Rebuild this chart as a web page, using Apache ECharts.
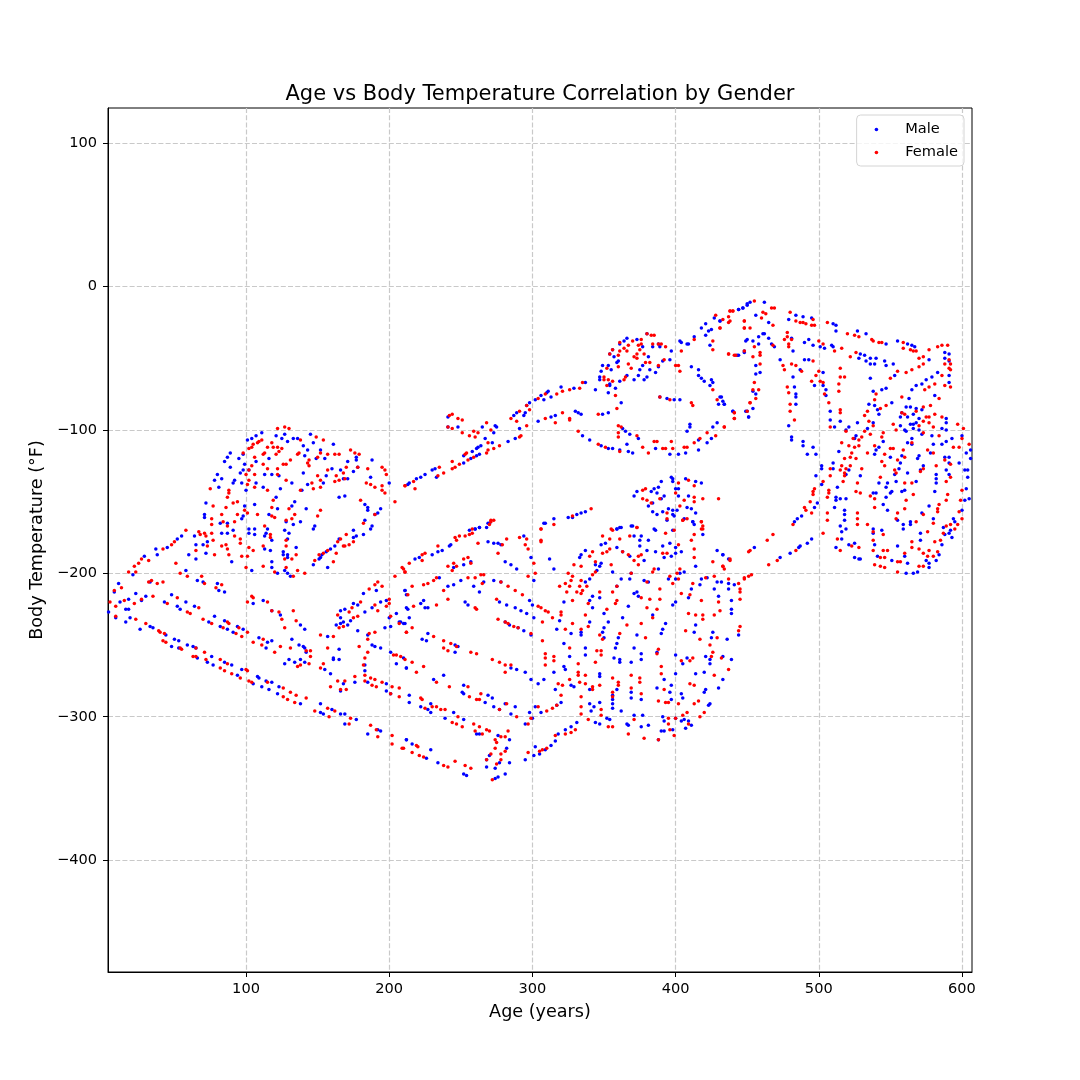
<!DOCTYPE html>
<html>
<head>
<meta charset="utf-8">
<style>html,body{margin:0;padding:0;background:#fff}#c{width:1080px;height:1080px}</style>
<script src="https://cdn.jsdelivr.net/npm/echarts@6/dist/echarts.min.js"></script>
</head>
<body>
<div id="c"></div>
<script>
const chartTitle = 'Age vs Body Temperature Correlation by Gender';
const xName = 'Age (years)';
const yName = 'Body Temperature (°F)';
const xTicks = [100,200,300,400,500,600];
const yTicks = [-400,-300,-200,-100,0,100];

const maleDome = [[111,-102],[107,-104],[104,-106],[101,-107],[121,-104],[127,-103],[125,-106],[129,-108],[133,-106],[136,-106],[145,-103],[147,-109],[161,-110],[140,-111],[143,-114],[152,-114],[89,-116],[87,-119],[85,-122],[95,-120],[98,-117],[116,-120],[141,-118],[149,-120],[155,-120],[171,-122],[177,-119],[177,-121],[188,-121],[99,-124],[107,-122],[89,-126],[80,-131],[78,-135],[83,-134],[81,-140],[98,-128],[96,-130],[102,-128],[92,-135],[91,-137],[97,-137],[107,-137],[100,-142],[112,-140],[113,-131],[118,-131],[123,-132],[132,-137],[124,-141],[140,-130],[139,-142],[143,-138],[154,-137],[156,-132],[160,-127],[166,-128],[171,-134],[175,-129],[178,-126],[168,-134],[187,-133],[200,-137],[165,-147],[169,-146],[183,-152],[185,-154],[185,-156],[194,-155],[192,-158],[190,-159],[183,-163],[188,-167],[187,-169],[182,-173],[177,-174],[175,-175],[175,-170],[165,-176],[162,-181],[159,-183],[156,-185],[153,-187],[152,-189],[157,-196],[147,-194],[151,-190],[134,-150],[132,-153],[142,-155],[138,-164],[148,-167],[147,-169],[133,-166],[128,-164],[127,-170],[130,-172],[129,-176],[126,-185],[126,-187],[129,-187],[129,-189],[135,-182],[127,-198],[129,-200],[131,-202],[121,-147],[122,-155],[116,-159],[113,-174],[114,-172],[115,-169],[118,-177],[113,-183],[117,-184],[118,-192],[118,-196],[122,-200],[106,-152],[99,-153],[98,-160],[97,-162],[102,-169],[106,-169],[106,-173],[102,-172],[91,-170],[87,-165],[83,-172],[87,-172],[82,-165],[72,-151],[71,-159],[71,-161],[65,-180],[70,-180],[73,-178],[64,-174],[72,-186],[65,-190],[60,-187],[90,-192],[104,-198],[58,-198],[55,-174],[52,-176],[45,-182],[37,-183],[38,-187],[29,-188],[21,-201]];

const femaleDome = [[122,-99],[127,-98],[130,-99],[111,-107],[109,-108],[108,-109],[105,-110],[104,-112],[102,-113],[118,-109],[115,-112],[119,-112],[122,-112],[125,-113],[113,-116],[112,-117],[123,-115],[121,-117],[98,-116],[106,-119],[138,-107],[149,-105],[154,-107],[137,-116],[136,-117],[144,-121],[143,-123],[144,-125],[150,-119],[157,-117],[162,-117],[165,-117],[173,-114],[176,-116],[179,-117],[152,-116],[112,-124],[104,-125],[102,-128],[100,-131],[115,-127],[122,-127],[126,-124],[131,-121],[128,-124],[122,-131],[128,-135],[106,-131],[157,-128],[150,-132],[152,-135],[163,-132],[165,-135],[162,-136],[169,-134],[170,-126],[168,-130],[178,-126],[185,-127],[184,-137],[187,-138],[190,-140],[195,-126],[197,-128],[198,-131],[195,-139],[195,-142],[197,-144],[204,-150],[211,-139],[88,-142],[88,-144],[87,-147],[102,-135],[101,-138],[75,-141],[106,-140],[115,-142],[119,-149],[118,-154],[138,-142],[147,-141],[152,-140],[146,-137],[152,-156],[130,-155],[134,-159],[128,-163],[132,-162],[118,-160],[120,-161],[150,-160],[180,-149],[190,-159],[182,-165],[99,-156],[77,-153],[86,-154],[91,-151],[94,-159],[94,-150],[101,-158],[108,-159],[76,-162],[83,-159],[84,-164],[87,-167],[76,-166],[92,-164],[76,-172],[58,-170],[67,-171],[71,-172],[72,-174],[68,-173],[77,-177],[92,-174],[96,-176],[96,-179],[83,-181],[86,-180],[87,-183],[78,-187],[88,-187],[97,-188],[102,-182],[105,-184],[101,-188],[100,-196],[112,-195],[120,-199],[65,-184],[73,-181],[113,-167],[117,-173],[117,-175],[112,-181],[128,-177],[128,-181],[127,-190],[128,-196],[132,-190],[135,-187],[136,-198],[133,-202],[141,-200],[148,-191],[151,-187],[154,-186],[157,-184],[161,-192],[163,-186],[164,-178],[166,-176],[168,-181],[170,-173],[169,-181],[172,-180],[175,-178],[51,-193],[50,-178],[48,-180],[42,-183],[32,-191],[27,-190],[25,-193],[22,-195],[18,-199],[23,-199],[54,-200],[69,-202],[59,-202]];

const maleLowerLeft = [[11,-207],[8,-213],[33,-206],[66,-205],[70,-206],[80,-207],[81,-212],[85,-213],[23,-214],[30,-216],[27,-219],[18,-218],[12,-220],[16,-225],[18,-225],[4,-227],[9,-231],[16,-234],[19,-231],[26,-239],[33,-237],[35,-238],[48,-215],[43,-220],[52,-223],[54,-225],[58,-220],[64,-223],[78,-230],[85,-233],[74,-234],[82,-237],[87,-239],[91,-241],[94,-237],[98,-239],[44,-243],[50,-246],[53,-247],[48,-251],[53,-252],[59,-250],[63,-251],[65,-252],[76,-258],[66,-259],[73,-262],[77,-264],[85,-262],[90,-264],[97,-267],[94,-271],[109,-245],[114,-252],[115,-248],[118,-247],[112,-219],[105,-221],[118,-226],[124,-229],[138,-236],[141,-239],[132,-246],[137,-250],[140,-251],[141,-252],[142,-255],[138,-260],[141,-262],[127,-263],[130,-260],[134,-262],[157,-244],[165,-253],[161,-259],[161,-260],[165,-260],[155,-267],[159,-270],[168,-277],[166,-282],[108,-272],[109,-273],[105,-277],[114,-275],[118,-276],[111,-279],[116,-281],[123,-279],[122,-284],[138,-291],[152,-291],[152,-297],[154,-298],[160,-295],[166,-298],[169,-298],[177,-302],[169,-305],[185,-312],[192,-309],[194,-310],[168,-234],[166,-231],[166,-235],[163,-236],[171,-236],[166,-226],[169,-225],[173,-233],[178,-222],[178,-240],[175,-221],[183,-227],[182,-214],[191,-212],[188,-224],[194,-220],[198,-219],[185,-243],[188,-250],[194,-252],[190,-251],[183,-264],[183,-268],[176,-276],[185,-276],[198,-277],[198,-282],[201,-284],[197,-238],[201,-237],[200,-231],[205,-228],[201,-255],[205,-263],[212,-266],[211,-212],[212,-224],[208,-234],[210,-235],[212,-316]];

const femaleLowerLeft = [[8,-212],[13,-210],[32,-206],[34,-205],[38,-207],[42,-206],[71,-207],[79,-210],[83,-208],[5,-220],[9,-223],[15,-219],[22,-221],[27,-218],[35,-216],[52,-217],[45,-221],[59,-227],[61,-228],[67,-224],[70,-232],[76,-235],[84,-238],[87,-234],[88,-235],[93,-242],[95,-238],[97,-244],[101,-241],[9,-230],[23,-232],[30,-235],[39,-240],[40,-241],[43,-242],[42,-247],[44,-248],[54,-252],[55,-253],[65,-252],[71,-255],[63,-258],[65,-258],[72,-260],[82,-260],[87,-263],[82,-266],[85,-268],[90,-270],[96,-273],[100,-267],[101,-268],[101,-220],[104,-216],[105,-217],[115,-220],[118,-226],[123,-227],[125,-232],[133,-226],[135,-233],[127,-238],[105,-248],[112,-246],[111,-250],[120,-255],[124,-251],[131,-252],[142,-254],[145,-254],[145,-258],[144,-263],[136,-265],[138,-264],[152,-243],[161,-244],[157,-252],[154,-263],[152,-266],[164,-275],[159,-279],[169,-275],[166,-281],[170,-281],[102,-275],[104,-276],[115,-276],[126,-280],[131,-283],[135,-285],[142,-287],[126,-286],[129,-288],[134,-290],[148,-296],[157,-294],[158,-300],[162,-296],[173,-301],[172,-305],[187,-306],[191,-309],[192,-314],[202,-313],[202,-319],[209,-322],[164,-229],[165,-238],[168,-237],[172,-227],[174,-224],[178,-230],[175,-231],[180,-220],[186,-211],[192,-206],[190,-208],[195,-209],[190,-222],[192,-226],[198,-223],[200,-218],[200,-221],[201,-230],[186,-242],[190,-241],[185,-246],[179,-251],[185,-255],[183,-259],[182,-264],[183,-271],[183,-275],[176,-272],[187,-273],[190,-274],[188,-278],[191,-279],[195,-276],[202,-279],[207,-280],[201,-284],[207,-286],[203,-257],[205,-257],[208,-258],[211,-260],[207,-235],[212,-241],[209,-196],[211,-199],[204,-202]];

const maleLowerMid = [[270,-165],[263,-168],[260,-169],[256,-170],[243,-180],[242,-181],[237,-184],[234,-185],[230,-187],[221,-189],[218,-190],[269,-178],[273,-179],[276,-179],[278,-180],[294,-174],[299,-189],[281,-192],[285,-194],[289,-197],[301,-205],[308,-165],[312,-190],[315,-197],[257,-192],[252,-194],[245,-196],[235,-203],[241,-209],[245,-208],[250,-205],[259,-209],[266,-206],[273,-205],[278,-206],[263,-213],[211,-212],[212,-215],[224,-219],[222,-221],[225,-224],[227,-224],[213,-225],[214,-231],[207,-234],[211,-235],[253,-220],[255,-222],[277,-220],[282,-222],[288,-224],[292,-226],[298,-219],[300,-222],[296,-228],[301,-231],[281,-234],[284,-236],[290,-238],[294,-240],[299,-243],[319,-233],[317,-239],[327,-242],[322,-249],[326,-258],[322,-265],[323,-267],[315,-269],[327,-278],[329,-279],[227,-242],[223,-246],[226,-247],[246,-250],[248,-251],[246,-255],[210,-259],[212,-266],[238,-271],[231,-274],[252,-278],[251,-283],[252,-284],[289,-267],[285,-266],[295,-269],[299,-274],[304,-277],[308,-274],[316,-281],[320,-290],[317,-292],[214,-285],[214,-290],[222,-293],[229,-291],[227,-295],[229,-297],[239,-301],[245,-297],[252,-302],[267,-290],[269,-285],[272,-287],[273,-293],[277,-295],[281,-291],[285,-298],[288,-293],[298,-297],[302,-293],[306,-297],[295,-305],[300,-301],[331,-304],[261,-312],[263,-312],[284,-316],[276,-313],[282,-322],[270,-327],[268,-330],[268,-335],[284,-332],[274,-336],[277,-332],[281,-340],[274,-343],[276,-342],[212,-316],[216,-319],[229,-323],[226,-329],[234,-332],[252,-340],[254,-341],[295,-330],[301,-327],[302,-321],[305,-326],[309,-323],[313,-320],[316,-317],[318,-312],[323,-309],[327,-307],[362,-168],[359,-169],[369,-167],[386,-170],[394,-163],[412,-164],[419,-173],[337,-184],[334,-187],[333,-189],[348,-180],[351,-179],[359,-182],[363,-185],[368,-188],[371,-174],[376,-174],[375,-177],[381,-177],[375,-181],[380,-184],[386,-185],[378,-191],[391,-181],[396,-179],[400,-182],[404,-185],[397,-188],[392,-189],[400,-186],[429,-184],[433,-187],[437,-190],[414,-195],[348,-193],[347,-195],[345,-198],[356,-199],[344,-194],[340,-204],[337,-206],[369,-200],[368,-204],[362,-204],[359,-209],[378,-205],[381,-206],[388,-197],[395,-204],[406,-199],[403,-200],[400,-204],[418,-204],[422,-203],[429,-206],[432,-206],[437,-207],[437,-211],[441,-208],[427,-211],[417,-208],[409,-217],[411,-211],[430,-216],[439,-219],[439,-225],[439,-228],[347,-217],[342,-216],[340,-219],[322,-220],[373,-213],[371,-214],[374,-216],[367,-223],[342,-224],[350,-228],[353,-234],[350,-238],[349,-241],[350,-245],[340,-234],[334,-241],[334,-243],[363,-231],[384,-229],[373,-243],[360,-245],[359,-249],[358,-252],[357,-259],[361,-260],[361,-262],[369,-262],[371,-252],[376,-256],[376,-260],[398,-222],[400,-220],[393,-235],[391,-239],[390,-242],[387,-255],[400,-257],[408,-259],[405,-263],[414,-236],[413,-241],[426,-241],[425,-245],[436,-246],[444,-243],[439,-260],[433,-258],[424,-260],[421,-258],[424,-263],[420,-269],[414,-270],[337,-252],[337,-257],[347,-270],[347,-272],[340,-281],[356,-285],[356,-288],[356,-291],[356,-294],[359,-281],[347,-290],[340,-291],[341,-296],[343,-293],[344,-304],[347,-305],[352,-301],[354,-302],[362,-296],[369,-283],[369,-287],[376,-288],[371,-299],[366,-305],[367,-306],[376,-307],[381,-306],[377,-299],[397,-278],[392,-274],[400,-270],[387,-280],[396,-283],[404,-284],[405,-287],[397,-288],[420,-283],[421,-281],[430,-280],[433,-274],[423,-292],[424,-291],[391,-300],[392,-303],[400,-301],[404,-303],[406,-302],[409,-303],[411,-306],[407,-308],[398,-309],[390,-310],[392,-310],[388,-316]];

const femaleLowerMid = [[271,-164],[270,-166],[258,-172],[256,-173],[253,-174],[249,-174],[246,-175],[247,-177],[234,-181],[225,-186],[223,-187],[223,-191],[214,-193],[210,-197],[211,-199],[262,-179],[279,-180],[282,-176],[276,-186],[291,-175],[296,-176],[295,-180],[297,-183],[301,-193],[302,-200],[297,-202],[306,-169],[306,-177],[315,-166],[306,-178],[257,-193],[255,-189],[252,-190],[245,-193],[241,-195],[247,-195],[244,-198],[231,-205],[233,-203],[224,-208],[227,-207],[216,-209],[255,-203],[260,-203],[264,-201],[266,-201],[265,-207],[213,-215],[238,-212],[233,-222],[241,-218],[217,-223],[260,-224],[261,-225],[275,-218],[278,-206],[283,-209],[288,-212],[293,-215],[304,-223],[306,-224],[309,-226],[311,-227],[314,-231],[276,-232],[281,-234],[283,-235],[287,-237],[290,-238],[299,-242],[307,-234],[320,-227],[320,-229],[323,-239],[328,-235],[212,-241],[216,-238],[231,-244],[238,-247],[238,-252],[241,-254],[243,-249],[247,-251],[257,-255],[261,-256],[272,-260],[277,-262],[281,-264],[285,-264],[281,-269],[307,-247],[309,-256],[309,-259],[309,-264],[315,-258],[315,-261],[216,-262],[224,-265],[219,-269],[233,-276],[242,-279],[255,-279],[256,-286],[264,-284],[261,-288],[263,-288],[222,-287],[223,-288],[225,-294],[230,-293],[233,-293],[236,-295],[239,-295],[248,-300],[244,-304],[247,-305],[251,-307],[277,-295],[282,-291],[289,-300],[299,-301],[297,-305],[304,-293],[310,-296],[314,-294],[317,-292],[320,-285],[318,-277],[321,-278],[259,-305],[263,-307],[268,-309],[270,-310],[260,-310],[265,-312],[283,-310],[278,-314],[281,-314],[274,-316],[275,-318],[274,-322],[271,-326],[268,-330],[278,-326],[281,-324],[278,-330],[275,-333],[272,-344],[210,-322],[219,-320],[220,-321],[216,-325],[221,-327],[224,-328],[238,-334],[241,-335],[246,-331],[253,-334],[257,-336],[297,-325],[305,-324],[307,-323],[310,-322],[316,-313],[323,-312],[327,-311],[330,-309],[349,-174],[354,-176],[356,-170],[361,-176],[368,-174],[373,-168],[393,-172],[399,-170],[405,-163],[418,-164],[418,-169],[413,-173],[411,-177],[413,-183],[413,-189],[342,-185],[340,-188],[354,-183],[352,-185],[349,-186],[334,-195],[329,-194],[344,-192],[344,-199],[342,-201],[325,-200],[328,-202],[327,-205],[323,-207],[319,-209],[326,-209],[324,-213],[331,-213],[334,-205],[333,-209],[335,-212],[334,-214],[338,-209],[328,-219],[339,-221],[355,-194],[369,-200],[359,-209],[356,-213],[359,-219],[358,-221],[347,-213],[363,-185],[367,-187],[374,-188],[376,-187],[371,-191],[374,-194],[384,-199],[385,-197],[391,-186],[394,-186],[402,-180],[403,-197],[401,-200],[396,-202],[398,-207],[389,-211],[402,-204],[412,-207],[410,-215],[404,-214],[380,-206],[382,-218],[376,-217],[389,-218],[380,-224],[387,-225],[384,-231],[352,-225],[337,-229],[339,-237],[334,-239],[366,-236],[376,-235],[418,-219],[409,-228],[414,-229],[419,-229],[419,-232],[427,-229],[430,-220],[431,-226],[445,-211],[445,-213],[445,-218],[426,-192],[433,-195],[438,-191],[421,-203],[427,-202],[444,-207],[448,-203],[445,-237],[444,-240],[451,-185],[361,-242],[347,-243],[349,-246],[379,-245],[407,-240],[417,-246],[429,-245],[424,-250],[426,-255],[425,-258],[432,-259],[437,-267],[427,-271],[348,-254],[348,-257],[345,-254],[344,-262],[388,-253],[387,-256],[390,-265],[390,-270],[369,-271],[375,-273],[375,-276],[356,-273],[360,-276],[360,-278],[332,-263],[332,-269],[332,-271],[326,-252],[326,-274],[337,-271],[337,-277],[342,-279],[342,-281],[347,-278],[333,-276],[334,-286],[334,-293],[334,-298],[339,-302],[348,-295],[348,-299],[353,-307],[356,-307],[356,-283],[356,-286],[369,-280],[376,-284],[367,-312],[371,-302],[378,-315],[388,-316],[388,-289],[393,-290],[395,-290],[392,-281],[402,-291],[410,-277],[413,-278],[413,-291],[416,-289],[405,-299],[408,-297],[395,-301],[395,-305],[400,-301],[396,-309],[399,-313],[409,-305],[420,-297],[417,-300],[404,-261],[410,-261],[412,-259]];

const maleUpperMid = [[337,-67],[344,-72],[320,-70],[329,-71],[311,-73],[310,-74],[306,-76],[302,-79],[308,-79],[313,-77],[298,-81],[296,-83],[289,-88],[287,-90],[294,-90],[295,-88],[304,-94],[313,-91],[316,-90],[330,-87],[332,-88],[334,-89],[349,-89],[353,-88],[362,-81],[358,-71],[353,-74],[241,-91],[248,-98],[241,-98],[265,-98],[274,-97],[275,-98],[273,-102],[291,-99],[267,-106],[272,-109],[283,-108],[288,-106],[264,-111],[262,-112],[261,-113],[258,-115],[252,-118],[263,-117],[261,-118],[257,-120],[252,-123],[233,-133],[232,-127],[230,-128],[225,-131],[222,-133],[219,-134],[214,-137],[213,-138],[335,-104],[340,-107],[348,-111],[353,-113],[356,-113],[361,-114],[367,-115],[370,-116],[366,-110],[363,-99],[365,-101],[368,-103],[374,-106],[386,-113],[396,-117],[402,-117],[407,-116],[416,-114],[416,-107],[422,-109],[425,-106],[426,-98],[429,-95],[408,-101],[410,-96],[410,-98],[389,-77],[394,-78],[399,-79],[403,-79],[411,-56],[416,-58],[416,-62],[418,-64],[420,-66],[425,-65],[426,-67],[424,-69],[431,-77],[433,-80],[430,-82],[434,-82],[440,-87],[451,-91],[449,-87],[380,-33],[373,-37],[366,-36],[364,-38],[361,-40],[356,-44],[354,-47],[357,-49],[360,-52],[359,-53],[353,-55],[349,-55],[348,-59],[355,-58],[347,-63],[347,-65],[354,-68],[354,-69],[361,-66],[366,-62],[371,-65],[374,-62],[378,-65],[380,-63],[375,-58],[377,-55],[381,-49],[377,-42],[384,-42],[388,-40],[389,-42],[397,-45],[396,-51],[391,-52],[388,-56],[386,-60],[382,-58],[403,-38],[404,-39],[408,-40],[409,-40],[413,-35],[421,-34],[418,-29],[421,-26],[423,-31],[425,-30],[431,-24],[427,-22],[444,-16],[447,-15],[450,-12],[449,-38],[444,-48],[448,-45],[424,-41],[397,-133],[398,-134],[390,-136],[398,-136],[407,-134],[414,-136],[418,-137],[373,-143],[388,-140],[385,-141],[383,-143],[387,-144],[400,-141],[402,-141],[409,-146],[402,-146],[371,-146],[392,-146],[390,-148],[384,-151],[381,-153],[408,-154],[411,-155],[395,-155],[398,-156],[401,-156],[391,-157],[384,-157],[414,-158],[398,-159],[399,-160],[387,-159],[406,-162],[412,-164],[413,-166],[370,-167],[361,-168],[359,-169],[385,-169],[398,-170],[315,-162],[309,-165],[325,-161],[328,-161],[331,-159],[334,-158],[337,-157],[269,-165],[268,-168],[263,-168],[260,-169]];

const femaleUpperMid = [[244,-89],[242,-90],[248,-92],[251,-93],[244,-99],[241,-98],[251,-102],[256,-104],[260,-105],[259,-101],[262,-102],[268,-95],[271,-100],[269,-109],[277,-111],[273,-113],[269,-114],[268,-116],[254,-116],[253,-117],[244,-122],[249,-124],[246,-126],[244,-127],[255,-121],[259,-119],[235,-126],[238,-130],[234,-132],[217,-136],[211,-139],[218,-141],[291,-105],[292,-104],[296,-97],[289,-94],[285,-92],[291,-87],[298,-86],[296,-83],[304,-78],[309,-75],[317,-75],[321,-73],[326,-72],[333,-71],[335,-67],[309,-92],[316,-95],[321,-88],[326,-92],[326,-93],[346,-89],[359,-85],[358,-76],[332,-101],[346,-110],[351,-112],[360,-97],[362,-98],[360,-102],[360,-105],[361,-115],[373,-104],[377,-112],[381,-116],[385,-108],[387,-108],[391,-113],[393,-113],[397,-108],[398,-113],[406,-112],[408,-112],[413,-109],[417,-106],[422,-102],[428,-104],[434,-98],[400,-55],[402,-55],[403,-59],[404,-45],[413,-37],[426,-38],[426,-44],[437,-47],[442,-48],[448,-45],[431,-29],[428,-20],[433,-23],[437,-21],[437,-25],[438,-24],[438,-17],[440,-17],[448,-24],[448,-29],[411,-81],[412,-83],[429,-79],[426,-72],[441,-88],[441,-92],[389,-77],[396,-79],[452,-81],[380,-33],[383,-34],[385,-34],[376,-37],[370,-38],[367,-41],[361,-39],[354,-47],[356,-44],[361,-45],[360,-48],[364,-43],[366,-45],[374,-41],[376,-40],[375,-44],[373,-47],[371,-49],[373,-50],[378,-47],[379,-53],[382,-53],[384,-40],[388,-40],[390,-40],[393,-42],[392,-51],[367,-54],[369,-57],[360,-56],[352,-57],[350,-63],[350,-65],[353,-65],[356,-66],[352,-69],[365,-63],[364,-65],[388,-55],[409,-135],[402,-137],[413,-139],[379,-141],[377,-142],[400,-144],[419,-148],[430,-148],[413,-147],[406,-149],[413,-150],[377,-148],[380,-149],[389,-148],[383,-151],[403,-153],[394,-158],[394,-162],[405,-163],[408,-162],[418,-164],[419,-167],[419,-169],[373,-168],[355,-169],[341,-155],[328,-160],[271,-163],[273,-163],[258,-169],[306,-169]];

const maleRight = [[462,-11],[452,-11],[450,-13],[447,-15],[444,-16],[456,-20],[465,-25],[431,-24],[484,-20],[489,-21],[479,-23],[495,-22],[510,-26],[512,-27],[512,-31],[527,-31],[533,-33],[555,-38],[562,-40],[565,-41],[567,-42],[547,-40],[577,-51],[552,-54],[547,-55],[546,-52],[540,-50],[536,-50],[533,-52],[529,-47],[532,-48],[528,-50],[536,-54],[539,-54],[553,-62],[536,-64],[588,-46],[591,-47],[588,-50],[591,-52],[591,-62],[591,-67],[462,-33],[461,-33],[458,-35],[465,-36],[458,-40],[450,-37],[454,-38],[467,-40],[469,-42],[448,-46],[443,-48],[456,-55],[456,-61],[459,-60],[481,-36],[490,-39],[493,-37],[496,-41],[501,-42],[504,-43],[509,-41],[510,-42],[473,-51],[482,-45],[490,-51],[493,-51],[487,-58],[503,-60],[482,-63],[483,-70],[484,-75],[484,-77],[484,-82],[497,-69],[503,-69],[505,-72],[505,-76],[508,-87],[508,-93],[515,-94],[511,-98],[479,-97],[456,-75],[454,-73],[454,-85],[451,-91],[450,-87],[440,-87],[432,-77],[434,-82],[538,-73],[544,-72],[547,-71],[565,-72],[568,-69],[572,-68],[575,-65],[579,-63],[583,-60],[535,-82],[539,-83],[541,-86],[542,-89],[551,-81],[563,-78],[581,-76],[527,-95],[521,-98],[538,-95],[534,-99],[561,-84],[564,-84],[568,-85],[572,-86],[566,-89],[562,-91],[558,-88],[557,-91],[570,-92],[589,-92],[589,-95],[568,-95],[564,-96],[566,-96],[557,-97],[566,-99],[560,-100],[570,-100],[572,-103],[561,-101],[565,-106],[579,-104],[586,-99],[589,-100],[593,-106],[589,-108],[586,-110],[600,-104],[580,-110],[565,-110],[562,-109],[481,-105],[481,-107],[489,-108],[489,-111],[496,-112],[492,-117],[498,-117],[502,-125],[502,-127],[498,-132],[502,-138],[499,-151],[497,-154],[488,-160],[485,-162],[483,-164],[495,-176],[492,-179],[487,-181],[486,-182],[480,-186],[473,-189],[455,-182],[433,-187],[519,-100],[526,-104],[525,-106],[542,-112],[545,-108],[540,-114],[539,-117],[558,-118],[550,-119],[514,-115],[510,-123],[510,-127],[521,-128],[519,-131],[529,-132],[557,-123],[556,-127],[553,-131],[554,-136],[548,-137],[547,-140],[542,-137],[551,-143],[550,-144],[547,-147],[545,-152],[548,-156],[562,-130],[560,-142],[558,-143],[568,-136],[570,-118],[569,-120],[578,-116],[573,-125],[571,-128],[588,-119],[591,-119],[591,-123],[589,-128],[591,-131],[582,-131],[582,-134],[582,-137],[581,-143],[598,-123],[602,-128],[604,-128],[604,-133],[603,-141],[602,-149],[605,-148],[606,-114],[603,-116],[606,-120],[513,-140],[512,-147],[512,-149],[515,-148],[519,-148],[511,-154],[518,-156],[518,-159],[518,-163],[515,-167],[519,-169],[516,-171],[516,-176],[512,-182],[521,-180],[525,-179],[525,-189],[528,-190],[529,-190],[538,-144],[540,-144],[577,-153],[572,-158],[559,-166],[564,-164],[564,-166],[559,-169],[555,-163],[571,-172],[571,-177],[538,-169],[538,-172],[544,-170],[539,-180],[541,-188],[555,-181],[551,-191],[562,-193],[560,-188],[561,-200],[566,-200],[569,-199],[575,-191],[577,-193],[577,-196],[582,-191],[584,-187],[586,-180],[588,-173],[591,-172],[593,-175],[592,-170],[594,-162],[595,-164],[587,-168],[580,-162],[600,-156]];

const femaleRight = [[455,-10],[467,-15],[469,-15],[438,-17],[440,-17],[461,-18],[463,-19],[460,-22],[480,-18],[468,-27],[448,-24],[448,-29],[452,-29],[431,-29],[484,-24],[487,-25],[489,-25],[491,-26],[495,-27],[497,-27],[496,-23],[506,-25],[520,-33],[525,-34],[528,-35],[537,-37],[538,-38],[542,-39],[544,-39],[559,-39],[559,-43],[564,-44],[566,-45],[568,-45],[577,-44],[583,-42],[586,-41],[590,-41],[573,-49],[570,-50],[573,-54],[570,-56],[565,-58],[561,-60],[555,-59],[550,-64],[591,-51],[592,-54],[588,-54],[591,-57],[592,-58],[478,-32],[478,-35],[476,-37],[481,-37],[479,-40],[479,-42],[468,-41],[455,-42],[459,-46],[459,-48],[454,-49],[437,-47],[441,-48],[459,-54],[455,-67],[458,-72],[454,-72],[456,-78],[452,-81],[450,-87],[441,-88],[441,-92],[434,-98],[481,-54],[484,-55],[475,-55],[476,-58],[488,-59],[496,-52],[500,-38],[503,-40],[511,-45],[516,-43],[526,-46],[522,-49],[515,-57],[515,-63],[518,-63],[495,-66],[498,-62],[500,-59],[501,-66],[503,-67],[514,-68],[514,-73],[504,-75],[507,-81],[515,-86],[515,-88],[508,-98],[478,-70],[479,-74],[480,-82],[480,-87],[483,-93],[540,-75],[539,-79],[543,-85],[547,-83],[532,-90],[534,-87],[535,-94],[538,-97],[574,-72],[577,-70],[581,-68],[586,-62],[588,-69],[592,-70],[584,-78],[558,-77],[578,-83],[573,-84],[568,-87],[558,-88],[560,-89],[552,-96],[554,-100],[575,-91],[577,-91],[581,-89],[570,-97],[573,-94],[577,-95],[586,-91],[597,-96],[601,-99],[580,-98],[573,-102],[584,-104],[600,-106],[605,-110],[594,-112],[598,-112],[565,-109],[545,-102],[544,-105],[536,-103],[530,-105],[532,-101],[519,-101],[552,-113],[528,-107],[524,-106],[521,-111],[525,-112],[528,-111],[516,-109],[534,-116],[539,-111],[546,-117],[523,-116],[522,-119],[518,-120],[526,-120],[550,-113],[559,-114],[555,-121],[560,-119],[544,-122],[546,-125],[573,-127],[571,-129],[576,-114],[580,-116],[582,-125],[588,-121],[592,-124],[592,-133],[589,-136],[516,-125],[522,-125],[519,-127],[515,-128],[508,-127],[518,-130],[518,-132],[530,-127],[508,-132],[517,-136],[527,-137],[553,-128],[554,-130],[543,-133],[560,-137],[565,-137],[503,-136],[497,-141],[496,-143],[496,-145],[494,-150],[490,-154],[491,-156],[495,-158],[482,-166],[507,-142],[507,-144],[506,-147],[526,-143],[529,-144],[536,-146],[539,-148],[566,-145],[561,-149],[539,-154],[506,-158],[506,-163],[527,-158],[527,-162],[527,-166],[534,-166],[538,-171],[538,-177],[545,-173],[555,-158],[554,-162],[560,-155],[568,-164],[573,-159],[583,-155],[583,-157],[584,-152],[589,-149],[590,-145],[599,-149],[600,-142],[598,-157],[600,-162],[597,-166],[580,-165],[576,-171],[587,-172],[592,-166],[595,-169],[589,-167],[585,-177],[581,-178],[565,-178],[565,-182],[570,-183],[503,-172],[513,-176],[515,-184],[523,-181],[528,-182],[538,-184],[543,-189],[546,-189],[545,-184],[548,-184],[560,-186],[555,-192],[557,-192],[539,-194],[543,-195],[546,-196],[555,-199],[570,-195],[573,-195],[576,-188],[573,-186],[580,-188],[583,-185],[577,-184],[468,-173],[464,-177],[452,-184],[484,-184],[471,-191],[465,-194],[438,-190],[433,-195],[434,-197],[437,-204],[453,-201],[451,-202],[448,-204]];

const maleData = [].concat(maleDome, maleLowerLeft, maleLowerMid, maleUpperMid, maleRight);
const femaleData = [].concat(femaleDome, femaleLowerLeft, femaleLowerMid, femaleUpperMid, femaleRight);

const FONT = '"DejaVu Sans", sans-serif';
const chart = echarts.init(document.getElementById('c'), null, {renderer:'canvas'});
const gridLine = {show:true, lineStyle:{color:'#c9c9c9', width:1.2, type:[5,2.2]}};
chart.setOption({
  animation:false,
  backgroundColor:'#fff',
  title:{text:chartTitle, left:535, textAlign:'center', top:79,
    textStyle:{fontFamily:FONT, fontSize:21, fontWeight:'normal', color:'#000'}},
  legend:{
    data:['Male','Female'], orient:'vertical', right:116, top:115,
    itemWidth:3.6, itemHeight:3.6, itemGap:8,
    padding:[7,6,6,18], borderColor:'#d4d4d4', borderWidth:1, borderRadius:4,
    backgroundColor:'rgba(255,255,255,0.8)',
    textStyle:{fontFamily:FONT, fontSize:14.6, color:'#000', padding:[0,0,0,22]}
  },
  grid:{left:108, top:108, width:864, height:864, show:true, borderColor:'#000', borderWidth:1, backgroundColor:'transparent'},
  xAxis:{type:'value', min:3.6, max:607, name:xName, nameLocation:'middle', nameGap:31,
    nameTextStyle:{fontFamily:FONT, fontSize:17.6, color:'#000'},
    axisLine:{show:true, onZero:false, lineStyle:{color:'#000', width:1}},
    axisTick:{show:true, length:5, customValues:xTicks, lineStyle:{color:'#000', width:1}},
    axisLabel:{fontFamily:FONT, fontSize:14.6, color:'#000', margin:10, customValues:xTicks},
    splitLine:gridLine},
  yAxis:{type:'value', min:-478, max:124.5, name:yName, nameLocation:'middle', nameGap:57,
    nameTextStyle:{fontFamily:FONT, fontSize:17.6, color:'#000'},
    axisLine:{show:true, onZero:false, lineStyle:{color:'#000', width:1}},
    axisTick:{show:true, length:5, customValues:yTicks, lineStyle:{color:'#000', width:1}},
    axisLabel:{fontFamily:FONT, fontSize:14.6, color:'#000', margin:11, customValues:yTicks,
      formatter:v => String(v).replace('-', '\u2212')},
    splitLine:gridLine},
  series:[
    {name:'Male', type:'scatter', data:maleData, symbol:'circle', symbolSize:3.5, itemStyle:{color:'#0000ff', opacity:1}, silent:true},
    {name:'Female', type:'scatter', data:femaleData, symbol:'circle', symbolSize:3.5, itemStyle:{color:'#ff0000', opacity:1}, silent:true}
  ]
});
</script>
</body>
</html>
